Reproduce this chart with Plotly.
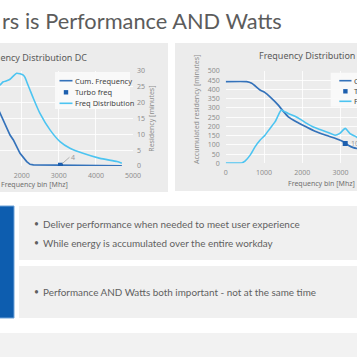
import plotly.graph_objects as go

W = H = 357

# ---------------- data ----------------
# Left chart: "Frequency Distribution DC"
dc_cum_x = [1300, 1415, 1550, 1685, 1775, 1955, 2135, 2225, 2315, 2600, 3045, 3500, 4000, 4700]
dc_cum_y = [328, 277, 225, 163, 137, 67, 23, 9, 6, 5, 4, 3, 2, 1]
dc_freq_x = [1300, 1415, 1504, 1596, 1685, 1774, 1865, 1954, 2043, 2089, 2135, 2224, 2313,
             2493, 2763, 3032, 3302, 3652, 4110, 4569, 4700]
dc_freq_y = [24.8, 25.6, 26.6, 26.9, 27.4, 28.4, 29.3, 29.1, 28.7, 28.0, 26.6, 24.0, 21.4,
             16.6, 11.4, 7.7, 5.6, 4.0, 2.4, 1.4, 0.9]
dc_turbo_x = [3045]
dc_turbo_y = [4]
dc_turbo_label = "4"
dc_xticks = [2000, 3000, 4000, 5000]
dc_y2ticks = [0, 5, 10, 15, 20, 25, 30]

# Right chart: "Frequency Distribution ..."
ac_cum_x = [0, 548, 679, 896, 1026, 1157, 1373, 1478, 1634, 1854, 2070, 2332, 2679, 2940,
            3071, 3201, 3332, 3428, 3600]
ac_cum_y = [442, 442, 433, 397, 383, 360, 315, 288, 252, 224, 201, 174, 148, 129,
            117, 98, 85, 80, 74]
ac_freq_x = [0, 418, 504, 634, 765, 895, 1026, 1157, 1287, 1374, 1444, 1504, 1634, 1809,
             1984, 2115, 2287, 2462, 2637, 2855, 2980, 3120, 3245, 3376, 3428, 3600]
ac_freq_y = [2, 2, 12, 43, 89, 125, 152, 189, 224, 261, 288, 284, 270, 255,
             234, 216, 197, 183, 170, 152, 162, 189, 161, 147, 140, 125]
ac_turbo_x = [3120]
ac_turbo_y = [107]
ac_turbo_label = "10"
ac_xticks = [0, 1000, 2000, 3000]
ac_yticks = [0, 50, 100, 150, 200, 250, 300, 350, 400, 450, 500]

legend_labels = ["Cum. Frequency", "Turbo freq", "Freq Distribution"]
bullets_top = ["Deliver performance when needed to meet user experience",
               "While energy is accumulated over the entire workday"]
bullets_bottom = ["Performance AND Watts both important - not at the same time"]
slide_title = "rs is Performance AND Watts"
dc_title = "Frequency Distribution DC"
ac_title = "Frequency Distribution"
x_title = "Frequency bin [Mhz]"
dc_y2_title = "Residency [minutes]"
ac_y_title = "Accumulated residency [minutes]"

# ---------------- styles ----------------
DARK = "#3472ba"
LIGHT = "#4cc4f1"
MARK = "#1d5fae"
TICK = "#8e8e8e"
TXT = "#5f5f5f"
CARD = "#ececec"
BOX = "#f0f0f0"
CH_FONT = "Noto Sans"
SL_FONT = "Lato"


def X(p):
    return p / W


def Y(p):
    return 1 - p / H


fig = go.Figure()

# left chart traces
fig.add_trace(go.Scatter(x=dc_cum_x, y=dc_cum_y, mode="lines", name=legend_labels[0],
                         line=dict(color=DARK, width=1.7), xaxis="x", yaxis="y"))
fig.add_trace(go.Scatter(x=dc_freq_x, y=dc_freq_y, mode="lines", name=legend_labels[2],
                         line=dict(color=LIGHT, width=1.6, shape="spline", smoothing=0.5),
                         xaxis="x", yaxis="y2"))
fig.add_trace(go.Scatter(x=dc_turbo_x, y=dc_turbo_y, mode="markers", name=legend_labels[1],
                         marker=dict(symbol="square", size=5, color=MARK), xaxis="x", yaxis="y"))

# right chart traces
fig.add_trace(go.Scatter(x=ac_cum_x, y=ac_cum_y, mode="lines", name=legend_labels[0],
                         line=dict(color=DARK, width=1.7, shape="spline", smoothing=0.5),
                         xaxis="x2", yaxis="y3"))
fig.add_trace(go.Scatter(x=ac_freq_x, y=ac_freq_y, mode="lines", name=legend_labels[2],
                         line=dict(color=LIGHT, width=1.6, shape="spline", smoothing=0.5),
                         xaxis="x2", yaxis="y3"))
fig.add_trace(go.Scatter(x=ac_turbo_x, y=ac_turbo_y, mode="markers", name=legend_labels[1],
                         marker=dict(symbol="square", size=5, color=MARK), xaxis="x2", yaxis="y3"))

axis_common = dict(showline=False, zeroline=False, ticks="", gridcolor="rgba(255,255,255,0.85)",
                   gridwidth=1, tickfont=dict(family=CH_FONT, size=7, color=TICK))

fig.update_layout(
    width=W, height=H, margin=dict(l=0, r=0, t=0, b=0),
    paper_bgcolor="white", plot_bgcolor="rgba(0,0,0,0)", showlegend=False,
    template="none",
    xaxis=dict(domain=[0, X(133)], range=[1415, 5000], tickvals=dc_xticks, anchor="y",
               showgrid=True, ticklabelstandoff=4, **axis_common),
    yaxis=dict(domain=[Y(166), Y(71)], range=[0, 500], visible=False, anchor="x"),
    yaxis2=dict(overlaying="y", side="right", anchor="x", range=[0, 30], tickvals=dc_y2ticks,
                showgrid=True, ticklabelstandoff=3, **axis_common),
    xaxis2=dict(domain=[X(225.7), 1], range=[0, 3428], tickvals=ac_xticks, anchor="y3",
                showgrid=True, ticklabelstandoff=4, **axis_common),
    yaxis3=dict(domain=[Y(163.3), Y(71)], range=[0, 500], tickvals=ac_yticks, anchor="x2",
                showgrid=True, ticklabelstandoff=5, **axis_common),
)

shapes = []
# cards
shapes.append(dict(type="rect", xref="paper", yref="paper", x0=X(-10), x1=X(168), y0=Y(192), y1=Y(43),
                   fillcolor=CARD, line=dict(width=0), layer="below"))
shapes.append(dict(type="rect", xref="paper", yref="paper", x0=X(175), x1=X(380), y0=Y(191), y1=Y(43),
                   fillcolor=CARD, line=dict(width=0), layer="below"))
# text boxes
shapes.append(dict(type="rect", xref="paper", yref="paper", x0=X(-5), x1=X(14), y0=Y(318), y1=Y(206),
                   fillcolor="#0d5daf", line=dict(color="#6ea3d8", width=1), layer="below"))
shapes.append(dict(type="rect", xref="paper", yref="paper", x0=X(19), x1=X(380), y0=Y(260), y1=Y(206),
                   fillcolor=BOX, line=dict(width=0), layer="below"))
shapes.append(dict(type="rect", xref="paper", yref="paper", x0=X(19), x1=X(380), y0=Y(318), y1=Y(266),
                   fillcolor=BOX, line=dict(width=0), layer="below"))
shapes.append(dict(type="rect", xref="paper", yref="paper", x0=X(-5), x1=X(380), y0=Y(380), y1=Y(333),
                   fillcolor="#f2f2f2", line=dict(width=0), layer="below"))

annotations = []


def txt(text, x, y, size, color=TXT, xanchor="left", yanchor="middle", family=SL_FONT, angle=0):
    annotations.append(dict(text=text, x=X(x), y=Y(y), xref="paper", yref="paper", showarrow=False,
                            xanchor=xanchor, yanchor=yanchor, textangle=angle,
                            font=dict(family=family, size=size, color=color)))


# manual legends (drawn like the reference's boxed legends)
def legend(x0, x1, y0, y1, lx0, lx1, ty):
    shapes.append(dict(type="rect", xref="paper", yref="paper", x0=X(x0), x1=X(x1), y0=Y(y1), y1=Y(y0),
                       fillcolor="rgba(250,250,250,0.95)", line=dict(width=0)))
    shapes.append(dict(type="line", xref="paper", yref="paper", x0=X(lx0), x1=X(lx1), y0=Y(ty[0]), y1=Y(ty[0]),
                       line=dict(color=DARK, width=1.6)))
    mx = (lx0 + lx1) / 2
    shapes.append(dict(type="rect", xref="paper", yref="paper", x0=X(mx - 2.2), x1=X(mx + 2.2),
                       y0=Y(ty[1] + 2.2), y1=Y(ty[1] - 2.2), fillcolor=MARK, line=dict(width=0)))
    shapes.append(dict(type="line", xref="paper", yref="paper", x0=X(lx0), x1=X(lx1), y0=Y(ty[2]), y1=Y(ty[2]),
                       line=dict(color=LIGHT, width=1.6)))
    for lab, yy in zip(legend_labels, ty):
        txt(lab, lx1 + 0.5, yy, 7.5, color="#444444", family=CH_FONT)


legend(55, 130, 72, 109, 59.5, 72.5, [80.7, 92.3, 103.3])
legend(330.7, 380, 72.7, 106.7, 339.3, 351.5, [80.7, 91.3, 101.3])

# titles
txt(slide_title, 0, 20, 21.8, color="#5c5c5c")
txt(dc_title, 89, 58, 9, color="#5a5a5a", xanchor="right", family=CH_FONT)
txt(ac_title, 256.7, 55.5, 9, color="#5a5a5a", family=CH_FONT)

# axis titles
txt(x_title, 34, 184.5, 7, color="#707070", xanchor="center", family=CH_FONT)
txt(x_title, 321.7, 184, 7, color="#707070", xanchor="center", family=CH_FONT)
txt(dc_y2_title, 151.7, 119, 7, color=TICK, xanchor="center", family=CH_FONT, angle=-90)
txt(ac_y_title, 196, 110, 7, color=TICK, xanchor="center", family=CH_FONT, angle=-90)

# turbo labels
annotations.append(dict(text=dc_turbo_label, x=dc_turbo_x[0], y=dc_turbo_y[0], xref="x", yref="y",
                        showarrow=True, arrowhead=0, arrowwidth=0.8, arrowcolor="#a0a0a0",
                        ax=9, ay=-8, standoff=2, xanchor="left",
                        font=dict(family=CH_FONT, size=7, color="#9a9a9a")))
annotations.append(dict(text=ac_turbo_label, x=ac_turbo_x[0], y=ac_turbo_y[0], xref="x2", yref="y3",
                        showarrow=False, xanchor="left", xshift=4,
                        font=dict(family=CH_FONT, size=7, color="#9a9a9a")))

# bullets
for text, yy in zip(bullets_top, [224, 243]):
    txt("•", 31.5, yy, 8.5, color=TXT)
    txt(text, 40.5, yy, 9.9, color=TXT)
for text, yy in zip(bullets_bottom, [292]):
    txt("•", 31.5, yy, 8.5, color=TXT)
    txt(text, 40.5, yy, 9.9, color=TXT)

fig.update_layout(shapes=shapes, annotations=annotations)
fig.write_html("out.html", config={"displayModeBar": False},
               post_script="document.body.style.margin='0';document.body.style.overflow='hidden';")
